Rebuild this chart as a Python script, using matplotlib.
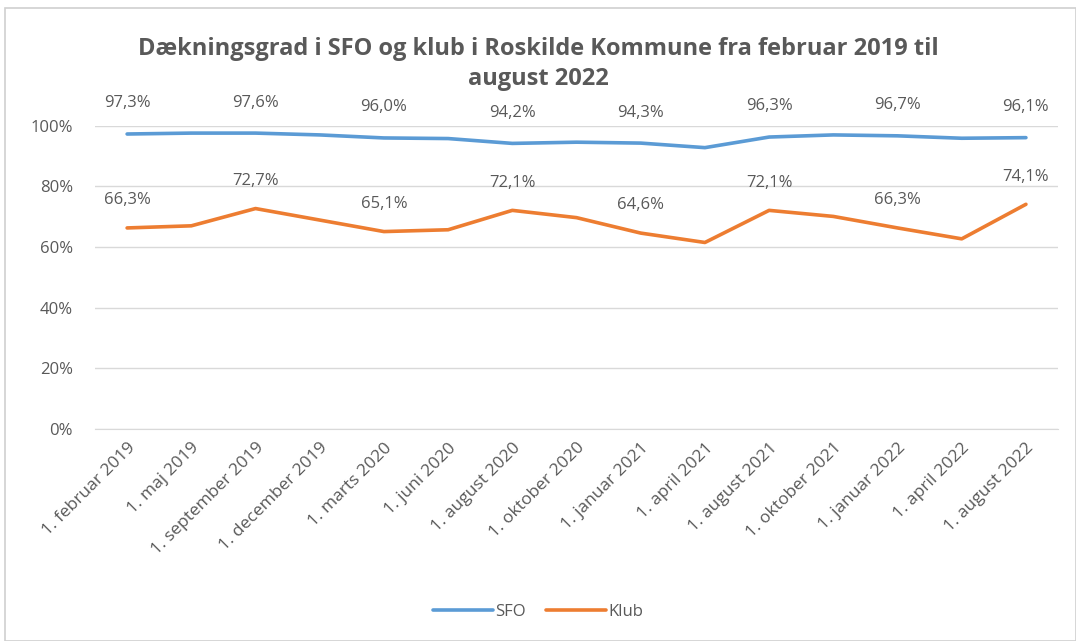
import matplotlib
matplotlib.use("Agg")
from matplotlib import pyplot as plt
from matplotlib.patches import Rectangle
from matplotlib.ticker import PercentFormatter

# data
dates = ["1. februar 2019", "1. maj 2019", "1. september 2019", "1. december 2019",
         "1. marts 2020", "1. juni 2020", "1. august 2020", "1. oktober 2020",
         "1. januar 2021", "1. april 2021", "1. august 2021", "1. oktober 2021",
         "1. januar 2022", "1. april 2022", "1. august 2022"]
sfo = [97.3, 97.6, 97.6, 97.0, 96.0, 95.8, 94.2, 94.6, 94.3, 92.8, 96.3, 97.0, 96.7, 95.9, 96.1]
klub = [66.3, 67.0, 72.7, 68.9, 65.1, 65.7, 72.1, 69.7, 64.6, 61.5, 72.1, 70.1, 66.3, 62.7, 74.1]
labelled = [0, 2, 4, 6, 8, 10, 12, 14]

blue = "#5B9BD5"
orange = "#ED7D31"
grey = "#595959"

plt.rcParams["font.family"] = ["Open Sans", "DejaVu Sans"]

fig = plt.figure(figsize=(10.76, 6.41), dpi=100)
ax = fig.add_axes([0.0883, 0.331, 0.895, 0.4727])

# chart border
fig.patches.append(Rectangle((5 / 1076, 0), 1 - 5 / 1076, 1 - 8 / 641, transform=fig.transFigure,
                             fill=False, edgecolor="#D0D0D0", linewidth=1.2))

x = list(range(len(dates)))
ax.plot(x, sfo, color=blue, linewidth=2.6, label="SFO", solid_capstyle="round")
ax.plot(x, klub, color=orange, linewidth=2.6, label="Klub", solid_capstyle="round")

for i in labelled:
    ax.annotate(f"{sfo[i]:.1f}%".replace(".", ","), (x[i], sfo[i]), xytext=(0, 22),
                textcoords="offset points", ha="center", va="center",
                fontsize=12, color=grey, annotation_clip=False)
    ax.annotate(f"{klub[i]:.1f}%".replace(".", ","), (x[i], klub[i]), xytext=(0, 20),
                textcoords="offset points", ha="center", va="center",
                fontsize=12, color=grey, annotation_clip=False)

ax.set_ylim(0, 100)
ax.set_xlim(-0.5, len(dates) - 0.5)
ax.set_yticks(range(0, 101, 20))
ax.yaxis.set_major_formatter(PercentFormatter(decimals=0))
ax.set_xticks(x)
ax.set_xticklabels(dates, rotation=45, ha="right", rotation_mode="anchor")
ax.tick_params(axis="y", length=0, labelsize=12, labelcolor=grey, pad=16)
ax.tick_params(axis="x", length=0, labelsize=12.5, labelcolor=grey, pad=8)
ax.grid(axis="y", color="#D9D9D9", linewidth=1)
ax.set_axisbelow(True)
for side in ["top", "right", "left"]:
    ax.spines[side].set_visible(False)
ax.spines["bottom"].set_color("#D9D9D9")

fig.text(0.5, 0.9, "Dækningsgrad i SFO og klub i Roskilde Kommune fra februar 2019 til\naugust 2022",
         ha="center", va="center", fontsize=17, fontweight="bold", color=grey, linespacing=1.35)

fig.legend(loc="lower center", bbox_to_anchor=(0.5, 0.01), ncol=2, frameon=False,
           fontsize=12, labelcolor=grey, handlelength=3.6, handletextpad=0.15, columnspacing=1.2)

fig.savefig("out.png", dpi=100, facecolor="white")
